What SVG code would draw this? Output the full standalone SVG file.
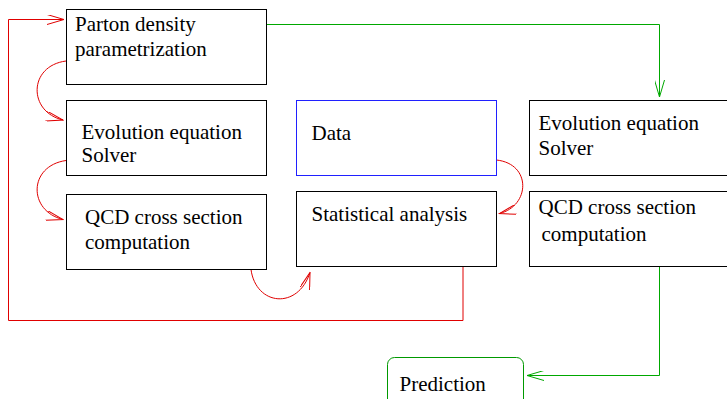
<svg xmlns="http://www.w3.org/2000/svg" width="727" height="399" viewBox="0 0 727 399">
<defs>
<style>
.box{fill:#fff;stroke:#000;stroke-width:1}
.data{fill:#fff;stroke:#2020ff;stroke-width:1}
.pred{fill:#fff;stroke:#009900;stroke-width:1}
.t{font-family:"Liberation Serif","Times New Roman",serif;font-size:21px;fill:#000}
.red{fill:none;stroke:#e00000;stroke-width:1}
.green{fill:none;stroke:#00a800;stroke-width:1}
</style>
<marker id="ar" viewBox="0 0 18 10" refX="17" refY="5" markerWidth="18" markerHeight="10" markerUnits="userSpaceOnUse" orient="auto">
<path d="M0,0 L17,5 L0,10" fill="none" stroke="#e00000" stroke-width="1"/>
</marker>
<marker id="ag" viewBox="0 0 18 10" refX="17" refY="5" markerWidth="18" markerHeight="10" markerUnits="userSpaceOnUse" orient="auto">
<path d="M0,0 L17,5 L0,10" fill="none" stroke="#00a800" stroke-width="1"/>
</marker>
</defs>
<rect width="727" height="399" fill="#fff"/>
<g id="connectors">
<path class="red" d="M463,266.5 V320.5 H8.5 V19.5 H64" marker-end="url(#ar)"/>
<path class="red" d="M66,61 C28,66 28,112 63,120" marker-end="url(#ar)"/>
<path class="red" d="M66,160.5 C28,166 28,211 63,219.5" marker-end="url(#ar)"/>
<path class="red" d="M251,269.5 C256,306 298,310 310,272.5" marker-end="url(#ar)"/>
<path class="red" d="M496.5,160 C532,164 530,206 499.5,213.5" marker-end="url(#ar)"/>
<path class="green" d="M266.5,24.5 H659.5 V97" marker-end="url(#ag)"/>
<path class="green" d="M659.5,266.5 V375.5 H527" marker-end="url(#ag)"/>
</g>
<g id="parton">
<rect class="box" x="66.5" y="9.5" width="200" height="75"/>
<text class="t" x="75" y="30.5">Parton density</text>
<text class="t" x="75" y="55.5">parametrization</text>
</g>
<g id="evol1">
<rect class="box" x="66.5" y="100.5" width="200" height="75"/>
<text class="t" x="81.5" y="138.5">Evolution equation</text>
<text class="t" x="81.5" y="161.5">Solver</text>
</g>
<g id="qcd1">
<rect class="box" x="66.5" y="194.5" width="200" height="75"/>
<text class="t" x="85" y="224">QCD cross section</text>
<text class="t" x="85" y="249">computation</text>
</g>
<g id="data">
<rect class="data" x="296.5" y="100.5" width="200" height="75"/>
<text class="t" x="311.5" y="139.5">Data</text>
</g>
<g id="stat">
<rect class="box" x="296.5" y="191.5" width="200" height="75"/>
<text class="t" x="311.5" y="221">Statistical analysis</text>
</g>
<g id="evol2">
<rect class="box" x="529.5" y="100.5" width="210" height="75"/>
<text class="t" x="538.5" y="129.5">Evolution equation</text>
<text class="t" x="538.5" y="154.5">Solver</text>
</g>
<g id="qcd2">
<rect class="box" x="529.5" y="191.5" width="210" height="75"/>
<text class="t" x="538.5" y="213.5">QCD cross section</text>
<text class="t" x="541.5" y="240.5">computation</text>
</g>
<g id="prediction">
<rect class="pred" x="387.5" y="357.5" width="136" height="60" rx="7"/>
<text class="t" x="399.5" y="390.5">Prediction</text>
</g>
</svg>
